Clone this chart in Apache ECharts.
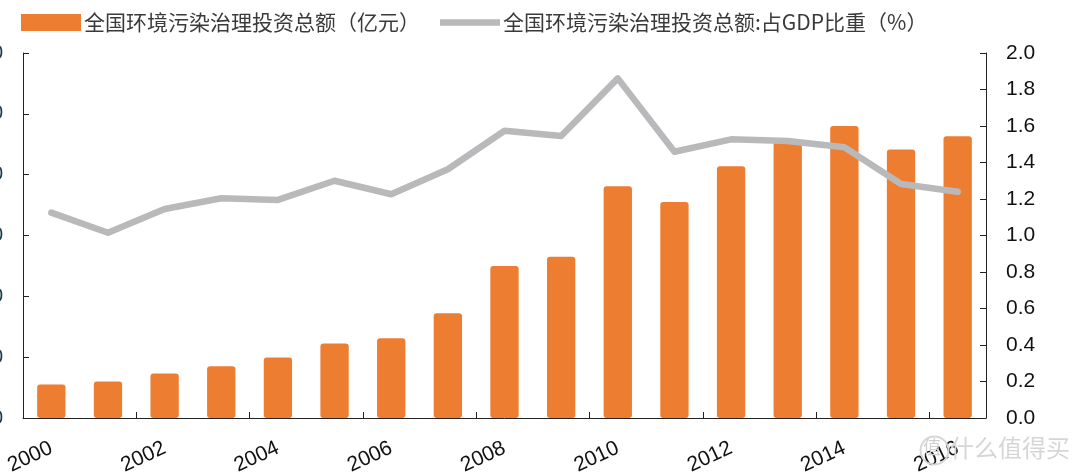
<!DOCTYPE html>
<html>
<head>
<meta charset="utf-8">
<script src="https://cdn.jsdelivr.net/npm/echarts@6/dist/echarts.min.js"></script>
<style>
html,body{margin:0;padding:0;background:#fff;}
#chart{width:1080px;height:475px;}
</style>
</head>
<body>
<div id="chart"></div>
<script>
const years = ['2000','2001','2002','2003','2004','2005','2006','2007','2008','2009','2010','2011','2012','2013','2014','2015','2016'];
const investment = [1100, 1200, 1460, 1700, 1990, 2450, 2620, 3440, 5000, 5300, 7620, 7100, 8280, 9080, 9600, 8830, 9260];
const gdpShare = [1.125, 1.015, 1.145, 1.204, 1.195, 1.30, 1.226, 1.363, 1.574, 1.545, 1.861, 1.459, 1.527, 1.518, 1.483, 1.282, 1.240];
const leftTicks = {min: 0, max: 12000, interval: 2000};
const rightTicks = {min: 0, max: 2.0, interval: 0.2};
const barName = '全国环境污染治理投资总额（亿元）';
const lineName = '全国环境污染治理投资总额:占GDP比重（%）';

const chart = echarts.init(document.getElementById('chart'), null, {renderer: 'canvas'});
const cjk = '"Noto Sans CJK SC", "Noto Sans", sans-serif';
const num = '"Liberation Sans", Arial, sans-serif';
chart.setOption({
  animation: false,
  backgroundColor: '#ffffff',
  legend: {
    left: 16, top: 7,
    itemWidth: 60, itemHeight: 17,
    itemGap: 20,
    textStyle: {fontFamily: cjk, fontSize: 21, color: '#3a3a3a', padding: [0,0,0,-2]},
    data: [
      {name: barName, icon: 'rect'},
      {name: lineName, icon: 'path://M0,0 L60,0 L60,6.5 L0,6.5 Z'}
    ]
  },
  grid: {left: 23, right: 94, top: 53, bottom: 57, containLabel: false, outerBoundsMode: 'none'},
  xAxis: {
    type: 'category',
    data: years,
    boundaryGap: true,
    axisLine: {lineStyle: {color: '#222', width: 1}},
    axisTick: {show: true, inside: true, interval: 1, length: 6, lineStyle: {color: '#222'}},
    axisLabel: {interval: 1, rotate: 25, margin: 29, fontFamily: num, fontSize: 21, color: '#111'}
  },
  yAxis: [
    {
      type: 'value', position: 'left',
      min: leftTicks.min, max: leftTicks.max, interval: leftTicks.interval,
      axisLine: {show: true, lineStyle: {color: '#222'}},
      axisTick: {show: true, inside: true, length: 6, lineStyle: {color: '#222'}},
      axisLabel: {margin: 20, fontFamily: num, fontSize: 20, color: '#1a3a4a', formatter: v => String(v)},
      splitLine: {show: false}
    },
    {
      type: 'value', position: 'right',
      min: rightTicks.min, max: rightTicks.max, interval: rightTicks.interval,
      axisLine: {show: true, lineStyle: {color: '#222'}},
      axisTick: {show: true, inside: true, length: 6, lineStyle: {color: '#222'}},
      axisLabel: {margin: 20, fontFamily: num, fontSize: 21, color: '#111',
        formatter: v => v.toFixed(1)},
      splitLine: {show: false}
    }
  ],
  series: [
    {
      name: barName, type: 'bar', yAxisIndex: 0,
      data: investment, barWidth: '50%',
      itemStyle: {color: '#ED7D31', borderRadius: 3}
    },
    {
      name: lineName, type: 'line', yAxisIndex: 1,
      data: gdpShare, symbol: 'none',
      lineStyle: {color: '#b9b9bb', width: 6.5, cap: 'round', join: 'round'},
      itemStyle: {color: '#b9b9bb'}
    }
  ],
  graphic: [
    {type: 'circle', left: 918, top: 434, shape: {r: 14}, style: {fill: 'none', stroke: '#d6d6d6', lineWidth: 2}, z: 100},
    {type: 'text', left: 923, top: 438, style: {text: '值', font: '18px "Noto Sans CJK SC"', fill: '#d0d0d0'}, z: 100},
    {type: 'text', left: 950, top: 436, style: {text: '什么值得买', font: '24px "Noto Sans CJK SC"', fill: '#d6d6d6'}, z: 100}
  ]
});
</script>
</body>
</html>
